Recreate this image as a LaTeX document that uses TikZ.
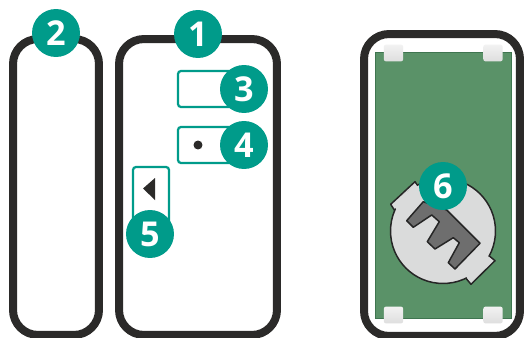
\documentclass[tikz,border=0pt]{standalone}
\usepackage{fontspec}
\setmainfont{Open Sans}
\definecolor{kasaSiyah}{HTML}{2B2A29}
\definecolor{rozetYesil}{HTML}{009B8A}
\definecolor{kartYesil}{HTML}{5A9268}
\definecolor{kartKenar}{HTML}{3F7550}
\definecolor{yuvaGri}{HTML}{DADBDB}
\definecolor{anahtarGri}{HTML}{6E6E6E}
\tikzset{
  kasa/.style={draw=kasaSiyah,line width=0.16cm,rounded corners=0.5cm,fill=white,minimum height=5.92cm},
  rozet/.style={circle,fill=rozetYesil,text=white,minimum size=0.96cm,inner sep=0pt,font=\fontsize{19.5}{21}\selectfont\bfseries},
  cerceve/.style={draw=rozetYesil,line width=0.045cm,rounded corners=0.06cm,fill=white},
  ped/.style={top color=black!5,bottom color=black!13,rounded corners=0.05cm,minimum width=0.39cm,minimum height=0.34cm,inner sep=0pt}
}
\begin{document}
\begin{tikzpicture}[x=0.02cm,y=-0.02cm]
\useasboundingbox (0,0) rectangle (525,338);
% kapak ve govde
\node[kasa,minimum width=1.72cm] (kapak) at (56,187) {};
\node[kasa,minimum width=3.16cm] (govde) at (198,187) {};
\node[kasa,minimum width=3.12cm,minimum height=6.04cm] (arka) at (442,185) {};
% on yuz
\node[cerceve,minimum width=1.08cm,minimum height=0.72cm] (dugme) at (205,89) {};
\node[cerceve,minimum width=1.08cm,minimum height=0.72cm] (led) at (205,145) {};
\node[cerceve,minimum width=0.72cm,minimum height=1.24cm] (yan) at (151,198) {};
\node[circle,fill=kasaSiyah,minimum size=0.18cm,inner sep=0pt] (nokta) at (198,145) {};
\fill[kasaSiyah] (143,188.5)--(155,178)--(155,200)--cycle;
% kart
\node[draw=kartKenar,line width=0.02cm,fill=kartYesil,minimum width=2.74cm,minimum height=5.34cm] (kart) at (443.5,185.5) {};
\node[ped] (ped1) at (393.5,53) {};
\node[ped] (ped2) at (493,53) {};
\node[ped] (ped3) at (393.5,315) {};
\node[ped] (ped4) at (493,315) {};
% pil yuvasi
\filldraw[fill=yuvaGri,draw=black!85,line width=0.03cm,line join=round] (390.7,204.3)--(415,181.7)--(419.3,188.3)--(436,200)--(470,200)--(489.3,256)--(495,260.7)--(471,284.3)--(466,278.3)--(440,260)--(395,211)--cycle;
\node[circle,fill=yuvaGri,draw=black!85,line width=0.03cm,minimum size=2.1cm,inner sep=0pt] (yuva) at (443,231) {};
\fill[yuvaGri] (392.7,205)--(415,184)--(436,205)--(410,225)--cycle;
\fill[yuvaGri] (493,260.5)--(471,282)--(455,265)--(475,245)--cycle;
\filldraw[fill=anahtarGri,draw=black!85,line width=0.03cm,line join=round] (406.7,220.7)--(413.3,227.3)--(431.7,215)--(439.3,221.7)--(427.3,241.7)--(435,249)--(453.3,237.7)--(459.3,242.7)--(448.3,262.7)--(455,269)--(480,243.3)--(446.7,210)--(423.3,201.7)--cycle;
% rozetler
\node[rozet] (r1) at (198,34) {1};
\node[rozet] (r2) at (56,33) {2};
\node[rozet] (r3) at (244,89) {3};
\node[rozet] (r4) at (244,145) {4};
\node[rozet] (r5) at (150,234) {5};
\node[rozet] (r6) at (443,186) {6};
\end{tikzpicture}
\end{document}
